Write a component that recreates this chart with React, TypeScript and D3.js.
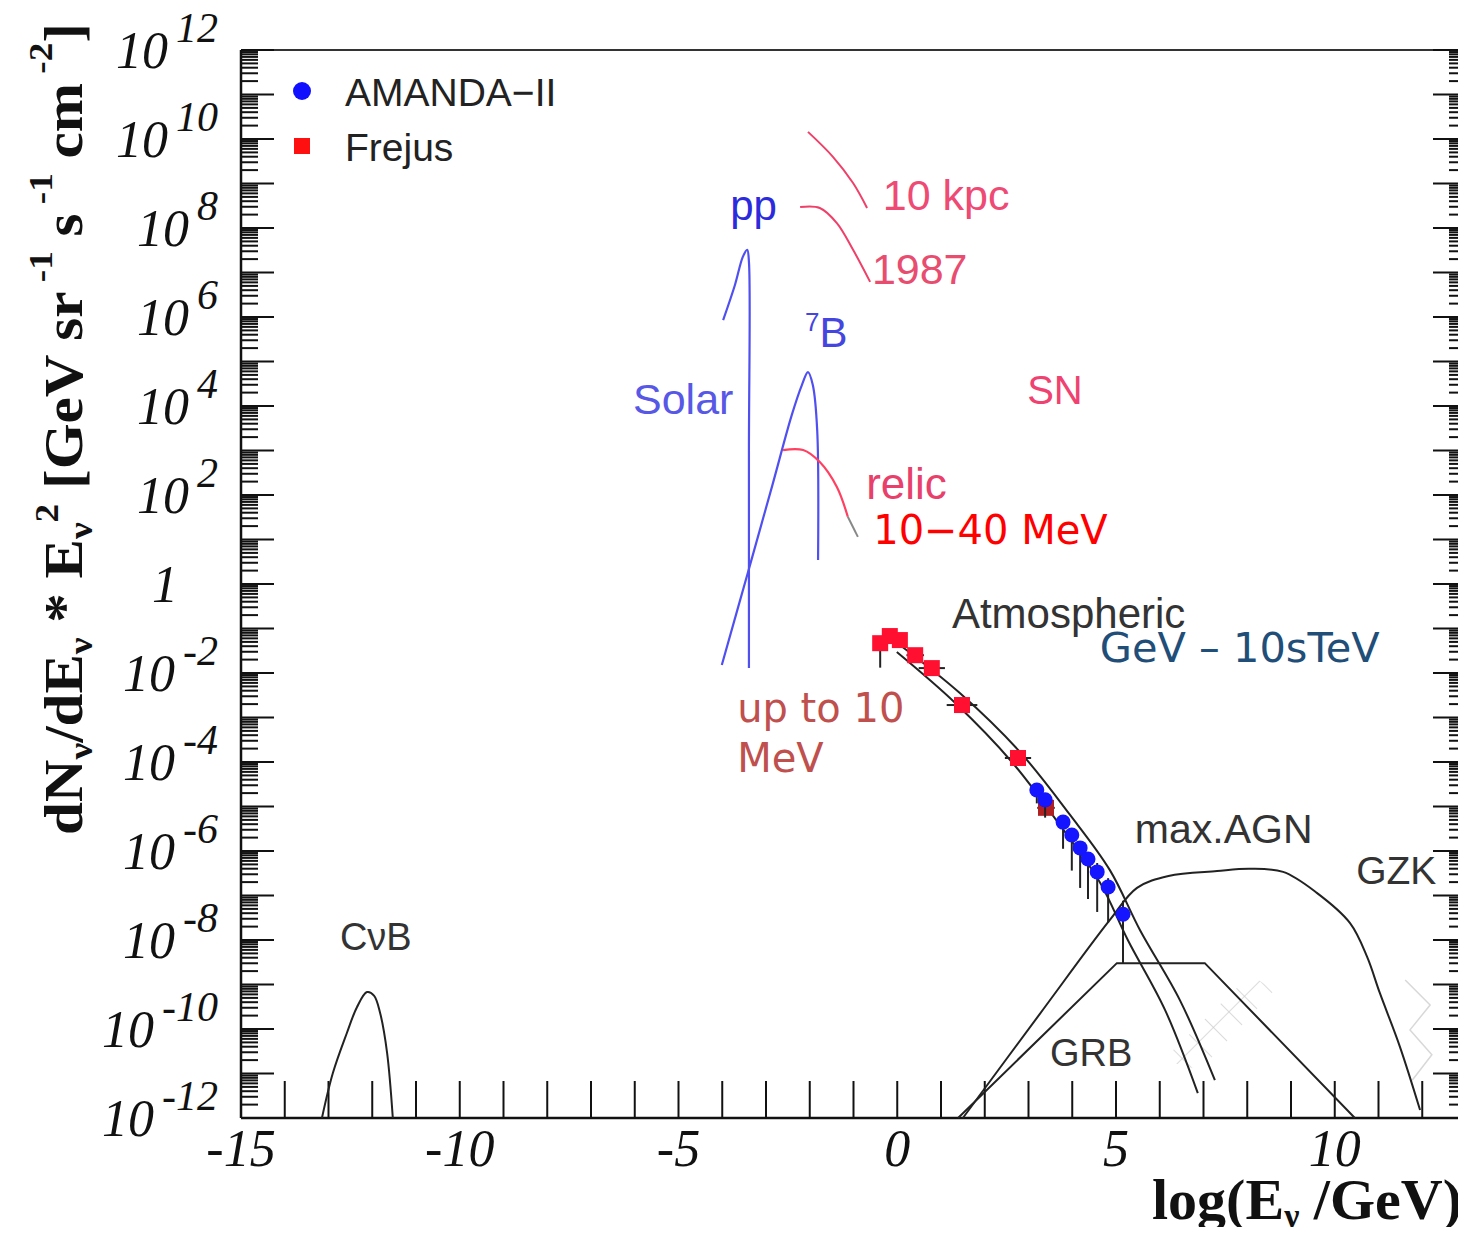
import * as d3 from 'd3';
import React from 'react';

// plot box in page pixels
const W = 1466;
const H = 1235;
const X0 = 241;
const X1 = 1466;
const Y0 = 50;
const Y1 = 1118;

// every curve: [log10(E/GeV), log10(flux)]
const cnb: [number, number][] = [
  [-13.15, -12], [-12.9, -10.99], [-12.58, -10.09], [-12.35, -9.51], [-12.12, -9.17],
  [-11.96, -9.25], [-11.82, -9.64], [-11.66, -10.54], [-11.53, -12],
];
const solarPP: [number, number][] = [
  [-3.98, 5.93], [-3.71, 6.72], [-3.53, 7.35], [-3.43, 7.51], [-3.39, 7.24], [-3.39, 3.0], [-3.39, -1.89],
];
const solarB7: [number, number][] = [
  [-4.01, -1.82], [-3.41, 0.27], [-2.86, 2.2], [-2.41, 3.8], [-2.18, 4.47], [-2.04, 4.76],
  [-1.93, 4.47], [-1.83, 3.46], [-1.81, 0.54],
];
const sn10kpc: [number, number][] = [[-2.04, 10.16], [-1.47, 9.6], [-1.01, 9.01], [-0.69, 8.45]];
const sn1987: [number, number][] = [[-2.22, 8.47], [-1.77, 8.45], [-1.38, 8.11], [-1.01, 7.51], [-0.62, 6.79]];
const relic: [number, number][] = [[-2.61, 3.01], [-2.15, 3.01], [-1.77, 2.74], [-1.38, 2.18], [-1.13, 1.51]];
const relicTail: [number, number][] = [[-1.13, 1.51], [-0.9, 1.06]];
const atmosHigh: [number, number][] = [
  [0.06, -1.37], [1.43, -2.45], [2.81, -3.78], [3.95, -5.19], [4.86, -6.43], [5.55, -7.78], [6.46, -9.35], [7.26, -11.15],
];
const atmosLow: [number, number][] = [
  [-0.01, -1.53], [1.32, -2.67], [2.62, -4.0], [3.72, -5.42], [4.63, -6.7], [5.27, -8.0], [6.12, -9.57], [6.87, -11.44],
];
const maxAgn: [number, number][] = [
  [1.5, -12], [3.26, -9.66], [4.86, -7.55], [5.48, -6.83], [6.2, -6.56], [7.31, -6.45], [8.06, -6.4],
  [8.82, -6.47], [9.59, -6.94], [10.35, -7.62], [10.74, -8.38], [11.03, -9.19], [11.49, -10.4], [11.95, -11.82],
];
const grb: [number, number][] = [[1.39, -12], [5.02, -8.52], [7.03, -8.52], [10.46, -12]];
const hatchArea: [number, number][] = [[6.07, -10.7], [8.06, -8.79], [8.63, -9.12], [6.92, -10.92]];
const hatchZig: [number, number][] = [[11.61, -8.9], [12.18, -9.46], [11.72, -10.02], [12.22, -10.58], [11.77, -11.15]];

// AMANDA-II points with downward / upward error (decades)
const amandaE = [3.19, 3.38, 3.79, 3.99, 4.18, 4.36, 4.57, 4.82, 5.16];
const amandaF = [-4.63, -4.85, -5.35, -5.64, -5.93, -6.18, -6.47, -6.81, -7.42];
const amandaLo = [0.3, 0.4, 0.6, 0.8, 0.9, 0.9, 0.9, 0.8, 1.1];
const amandaHi = [0.1, 0.1, 0.15, 0.15, 0.15, 0.15, 0.2, 0.2, 0.3];

// Frejus points with horizontal half width (log E) and downward error
const frejusE = [-0.39, -0.17, 0.06, 0.41, 0.79, 1.48, 2.76, 3.4];
const frejusF = [-1.33, -1.17, -1.26, -1.6, -1.89, -2.72, -3.91, -5.03];
const frejusDx = [0.1, 0.1, 0.1, 0.2, 0.3, 0.35, 0.3, 0.2];
const frejusLo = [0.55, 0.1, 0.1, 0.1, 0.1, 0.1, 0.1, 0.1];

const xTicks = d3.range(-15, 13);
const xLabels = [-15, -10, -5, 0, 5, 10];
const yDecades = d3.range(-12, 13);
const yLabels = [12, 10, 8, 6, 4, 2, 0, -2, -4, -6, -8, -10, -12];

// text labels: [text, logE, logFlux, colour, size]
const labels: [string, number, number, string, number][] = [
  ['pp', -3.82, 8.18, '#2b2bdd', 42],
  ['10 kpc', -0.33, 8.4, '#ee4a74', 43],
  ['1987', -0.58, 6.74, '#e84d70', 43],
  ['Solar', -6.04, 3.82, '#5858e6', 43],
  ['SN', 2.97, 4.04, '#ef4270', 40],
  ['relic', -0.71, 1.91, '#e8406a', 44],
  ['Atmospheric', 1.25, -0.99, '#333', 42],
  ['max.AGN', 5.43, -5.82, '#333', 41],
  ['GZK', 10.49, -6.74, '#333', 39],
  ['GRB', 3.49, -10.83, '#333', 38],
  ['CνB', -12.74, -8.22, '#333', 38],
];
// later annotations laid on top: [text, logE, logFlux, colour, size]
const notes: [string, number, number, string, number][] = [
  ['10−40 MeV', -0.55, 0.9, '#ff0000', 40],
  ['GeV – 10sTeV', 4.63, -1.75, '#1f4e79', 41.5],
  ['up to 10', -3.66, -3.1, '#c0504d', 40],
  ['MeV', -3.66, -4.22, '#c0504d', 40],
];

const x = d3.scaleLinear().domain([-15, 13]).range([X0, X1]);
const y = d3.scaleLog().domain([1e-12, 1e12]).range([Y1, Y0]);
const fy = (v: number) => y(Math.pow(10, v));

const smooth = d3.line<[number, number]>()
  .x(d => x(d[0]))
  .y(d => fy(d[1]))
  .curve(d3.curveCatmullRom.alpha(0.5));
const straight = d3.line<[number, number]>()
  .x(d => x(d[0]))
  .y(d => fy(d[1]));

const serif = '"Liberation Serif", "DejaVu Serif", serif';
const sans = '"Liberation Sans", Arial, sans-serif';
const note = '"DejaVu Sans", Verdana, sans-serif';

export default function App() {
  const minor: number[] = [];
  yDecades.slice(0, -1).forEach(d => {
    for (let k = 2; k <= 9; k++) minor.push(d + Math.log10(k));
  });

  return (
    <svg width={W} height={H} style={{ display: 'block', margin: '-8px', background: '#fff' }}>
      {/* faint hatching */}
      <defs>
        <pattern id="hatch" width="22" height="22" patternUnits="userSpaceOnUse" patternTransform="rotate(45)">
          <path d="M0,0 L0,22 M0,0 L22,0" stroke="#cfcfcf" strokeWidth="1.5" />
        </pattern>
      </defs>
      <path d={straight(hatchArea) + 'Z'} fill="url(#hatch)" />
      <path d={straight(hatchZig) || ''} fill="none" stroke="#d8d8d8" strokeWidth={1.5} />

      {/* frame */}
      <line x1={X0} x2={X1} y1={Y0} y2={Y0} stroke="#333" strokeWidth={2} />
      <line x1={X0} x2={X1} y1={Y1} y2={Y1} stroke="#111" strokeWidth={2.5} />
      <line x1={X0} x2={X0} y1={Y0} y2={Y1} stroke="#111" strokeWidth={2.5} />
      <line x1={X1 - 1} x2={X1 - 1} y1={Y0} y2={Y1} stroke="#111" strokeWidth={2.5} />

      {/* x ticks */}
      {xTicks.map(t => (
        <line key={'xt' + t} x1={x(t)} x2={x(t)} y1={Y1} y2={Y1 - 37} stroke="#111" strokeWidth={2} />
      ))}
      {xLabels.map(t => (
        <text key={'xl' + t} x={x(t)} y={1166} textAnchor="middle" fontFamily={serif}
          fontStyle="italic" fontSize={52} fill="#111">{t}</text>
      ))}

      {/* y ticks, left and right */}
      {yDecades.map(d => (
        <g key={'yd' + d}>
          <line x1={X0} x2={X0 + 33} y1={fy(d)} y2={fy(d)} stroke="#111" strokeWidth={2} />
          <line x1={X1} x2={X1 - 33} y1={fy(d)} y2={fy(d)} stroke="#111" strokeWidth={2} />
        </g>
      ))}
      {minor.map((m, i) => (
        <g key={'ym' + i}>
          <line x1={X0} x2={X0 + 17} y1={fy(m)} y2={fy(m)} stroke="#111" strokeWidth={2} />
          <line x1={X1} x2={X1 - 17} y1={fy(m)} y2={fy(m)} stroke="#111" strokeWidth={2} />
        </g>
      ))}
      {yLabels.map(d => d === 0 ? (
        <text key={'yl' + d} x={178} y={fy(d) + 18} textAnchor="end" fontFamily={serif}
          fontStyle="italic" fontSize={52} fill="#111">1</text>
      ) : (
        <text key={'yl' + d} x={218} y={fy(d) + 18} textAnchor="end" fontFamily={serif}
          fontStyle="italic" fontSize={52} fill="#111">
          10<tspan dx={8} dy={-26} fontSize={42}>{String(d)}</tspan>
        </text>
      ))}

      {/* axis titles */}
      <text x={1462} y={1219} textAnchor="end" fontFamily={serif} fontWeight="bold" fontSize={58} fill="#111">
        log(E<tspan dy={8} fontSize={34}>ν</tspan><tspan dy={-8}> /GeV)</tspan>
      </text>
      <text transform="translate(82,835) rotate(-90)" fontFamily={serif} fontWeight="bold" fontSize={54} fill="#111"
        textLength={812} lengthAdjust="spacingAndGlyphs">
        dN<tspan dy={10} fontSize={34}>ν</tspan>
        <tspan dy={-10}>/dE</tspan><tspan dy={10} fontSize={34}>ν</tspan>
        <tspan dy={-10}> * E</tspan><tspan dy={10} fontSize={34}>ν</tspan>
        <tspan dy={-34} fontSize={34}>2</tspan>
        <tspan dy={24}> [GeV sr</tspan><tspan dy={-30} fontSize={34}> -1</tspan>
        <tspan dy={30}> s</tspan><tspan dy={-30} fontSize={34}> -1</tspan>
        <tspan dy={30}> cm</tspan><tspan dy={-30} fontSize={34}> -2</tspan>
        <tspan dy={30}>]</tspan>
      </text>

      {/* curves */}
      <path d={smooth(cnb) || ''} fill="none" stroke="#222" strokeWidth={2} />
      <path d={smooth(solarPP) || ''} fill="none" stroke="#5050f0" strokeWidth={2.2} />
      <path d={smooth(solarB7) || ''} fill="none" stroke="#5050f0" strokeWidth={2.2} />
      <path d={smooth(sn10kpc) || ''} fill="none" stroke="#ee4068" strokeWidth={2} />
      <path d={smooth(sn1987) || ''} fill="none" stroke="#ee4068" strokeWidth={2} />
      <path d={smooth(relic) || ''} fill="none" stroke="#ff4060" strokeWidth={2.2} />
      <path d={straight(relicTail) || ''} fill="none" stroke="#888" strokeWidth={2} />
      <path d={smooth(maxAgn) || ''} fill="none" stroke="#222" strokeWidth={2} />
      <path d={straight(grb) || ''} fill="none" stroke="#222" strokeWidth={2} />
      <path d={smooth(atmosHigh) || ''} fill="none" stroke="#222" strokeWidth={2} />
      <path d={smooth(atmosLow) || ''} fill="none" stroke="#222" strokeWidth={2} />

      {/* Frejus */}
      {frejusE.map((e, i) => (
        <g key={'fr' + i}>
          <line x1={x(e - frejusDx[i])} x2={x(e + frejusDx[i])} y1={fy(frejusF[i])} y2={fy(frejusF[i])}
            stroke="#222" strokeWidth={2} />
          <line x1={x(e)} x2={x(e)} y1={fy(frejusF[i] + 0.1)} y2={fy(frejusF[i] - frejusLo[i])}
            stroke="#222" strokeWidth={2} />
          <rect x={x(e) - 8} y={fy(frejusF[i]) - 8} width={16} height={16}
            fill={i === frejusE.length - 1 ? '#b02020' : '#ff1030'} />
        </g>
      ))}

      {/* AMANDA-II */}
      {amandaE.map((e, i) => (
        <g key={'am' + i}>
          <line x1={x(e)} x2={x(e)} y1={fy(amandaF[i] + amandaHi[i])} y2={fy(amandaF[i] - amandaLo[i])}
            stroke="#222" strokeWidth={2} />
          <circle cx={x(e)} cy={fy(amandaF[i])} r={7.5} fill="#1515ff" />
        </g>
      ))}

      {/* legend */}
      <circle cx={302} cy={91} r={9} fill="#1010ff" />
      <text x={345} y={106} fontFamily={sans} fontSize={39} fill="#222">AMANDA−II</text>
      <rect x={294} y={138} width={16} height={16} fill="#ff1010" />
      <text x={345} y={161} fontFamily={sans} fontSize={39} fill="#222">Frejus</text>

      {/* labels */}
      {labels.map(([t, e, f, c, s]) => (
        <text key={t} x={x(e)} y={fy(f)} fontFamily={sans} fontSize={s} fill={c}>{t}</text>
      ))}
      <text x={x(-2.11)} y={fy(5.33)} fontFamily={sans} fontSize={42} fill="#4545e0">
        <tspan fontSize={26} dy={-16}>7</tspan><tspan dy={16}>B</tspan>
      </text>
      {notes.map(([t, e, f, c, s]) => (
        <text key={t} x={x(e)} y={fy(f)} fontFamily={note} fontSize={s} fill={c}>{t}</text>
      ))}
    </svg>
  );
}
